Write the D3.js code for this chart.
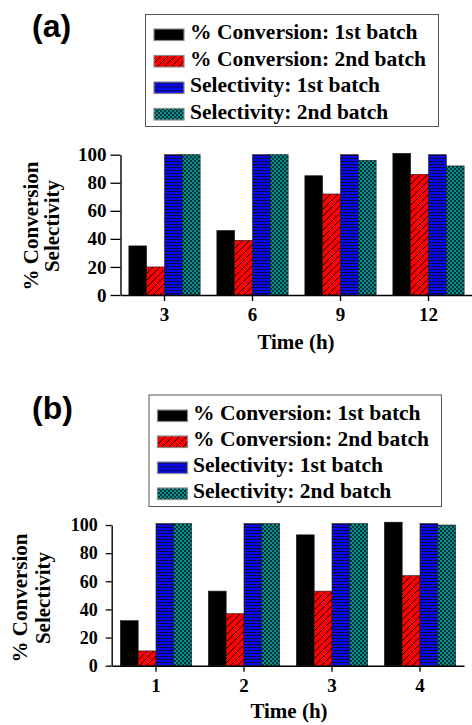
<!DOCTYPE html>
<html>
<head>
<meta charset="utf-8">
<script src="https://cdn.jsdelivr.net/npm/d3@7"></script>
<style>
  body { margin: 0; background: #fff; }
  svg { display: block; }
</style>
</head>
<body>
<div id="chart"></div>
<script>
// ---- data ----
const seriesNames = [
  "% Conversion: 1st batch",
  "% Conversion: 2nd batch",
  "Selectivity: 1st batch",
  "Selectivity: 2nd batch"
];
const yTicks = [0, 20, 40, 60, 80, 100];

const timesA = ["3", "6", "9", "12"];
const conv1A = [35, 46, 85, 101];
const conv2A = [20, 39, 72, 86];
const sel1A = [100, 100, 100, 100];
const sel2A = [100, 100, 96, 92];

const timesB = ["1", "2", "3", "4"];
const conv1B = [32, 53, 93, 102];
const conv2B = [10.5, 37, 53, 64];
const sel1B = [101, 101, 101, 101];
const sel2B = [101, 101, 101, 100];

const width = 472;
const height = 725;
const serif = '"Liberation Serif", "Times New Roman", serif';
const sans = '"Liberation Sans", Arial, sans-serif';

const svg = d3.select("#chart").append("svg")
  .attr("width", width)
  .attr("height", height)
  .attr("viewBox", `0 0 ${width} ${height}`);

// ---- fill patterns ----
const defs = svg.append("defs");

function hatch(id) {
  const p = defs.append("pattern").attr("id", id)
    .attr("patternUnits", "userSpaceOnUse").attr("width", 7).attr("height", 7);
  p.append("rect").attr("width", 7).attr("height", 7).attr("fill", "#ff0000");
  p.append("path").attr("d", "M-1,1 l2,-2 M0,7 l7,-7 M6,8 l2,-2")
    .attr("stroke", "#000").attr("stroke-width", 0.9);
}
function lines(id, h) {
  const p = defs.append("pattern").attr("id", id)
    .attr("patternUnits", "userSpaceOnUse").attr("width", 4).attr("height", h);
  p.append("rect").attr("width", 4).attr("height", h).attr("fill", "#0a0aef");
  p.append("rect").attr("y", h - 1).attr("width", 4).attr("height", 1).attr("fill", "#0b0b40");
}
function dots(id) {
  const p = defs.append("pattern").attr("id", id)
    .attr("patternUnits", "userSpaceOnUse").attr("width", 4).attr("height", 4);
  p.append("rect").attr("width", 4).attr("height", 4).attr("fill", "#0c2f2f");
  p.append("rect").attr("width", 2).attr("height", 2).attr("fill", "#009393");
  p.append("rect").attr("x", 2).attr("y", 2).attr("width", 2).attr("height", 2).attr("fill", "#009393");
}
hatch("redHatch");
lines("blueLines", 3);
lines("blueLinesLeg", 3.8);
dots("tealDots");

const barFills = ["#000", "url(#redHatch)", "url(#blueLines)", "url(#tealDots)"];
const legFills = ["#000", "url(#redHatch)", "url(#blueLinesLeg)", "url(#tealDots)"];

function drawPanel(cfg) {
  const g = svg.append("g");
  const series = [cfg.c1, cfg.c2, cfg.s1, cfg.s2];

  // panel letter
  g.append("text")
    .attr("x", cfg.letterX).attr("y", cfg.letterY)
    .attr("font-family", sans).attr("font-weight", "bold")
    .attr("font-size", 32)
    .text(cfg.letter);

  // legend
  const leg = g.append("g");
  leg.append("rect")
    .attr("x", cfg.leg.x).attr("y", cfg.leg.y)
    .attr("width", cfg.leg.w).attr("height", cfg.leg.h)
    .attr("fill", "#fff").attr("stroke", "#555").attr("stroke-width", 1);
  seriesNames.forEach((name, i) => {
    const yy = cfg.leg.y0 + i * cfg.leg.step;
    leg.append("rect")
      .attr("x", cfg.leg.sx).attr("y", yy)
      .attr("width", 30).attr("height", 11.5)
      .attr("fill", legFills[i])
      .attr("stroke", "#8a8a8a").attr("stroke-width", 1.2);
    leg.append("text")
      .attr("x", cfg.leg.tx).attr("y", yy + 10)
      .attr("font-family", serif).attr("font-weight", "bold")
      .attr("font-size", 21.5)
      .text(name);
  });

  const y = d3.scaleLinear().domain([0, 100]).range(cfg.yRange);
  const x0 = d3.scaleBand().domain(cfg.times).range(cfg.xRange)
    .paddingInner(0.19).paddingOuter(0.095);
  const x1 = d3.scaleBand().domain(d3.range(series.length)).range([0, x0.bandwidth()]);

  // bars
  cfg.times.forEach((t, i) => {
    g.selectAll(null)
      .data(series.map((s, k) => ({ k, v: s[i] })))
      .join("rect")
      .attr("x", d => x0(t) + x1(d.k))
      .attr("y", d => y(d.v))
      .attr("width", x1.bandwidth())
      .attr("height", d => y(0) - y(d.v))
      .attr("fill", d => barFills[d.k])
      .attr("stroke", "#1a1a1a")
      .attr("stroke-width", 0.6);
  });

  // axes
  const yAxis = g.append("g")
    .attr("transform", `translate(${cfg.axisX},0)`)
    .call(d3.axisLeft(y).tickValues(yTicks).tickSize(cfg.yTick).tickPadding(cfg.yPad).tickSizeOuter(0));
  const xAxis = g.append("g")
    .attr("transform", `translate(0,${y(0)})`)
    .call(d3.axisBottom(x0).tickSize(6).tickPadding(7).tickSizeOuter(0));

  [yAxis, xAxis].forEach(a => {
    a.select(".domain").attr("stroke", "#000").attr("stroke-width", 1.4);
    a.selectAll(".tick line").attr("stroke", "#000").attr("stroke-width", 1.3);
    a.selectAll("text")
      .attr("font-family", serif).attr("font-weight", "bold").attr("fill", "#000");
  });
  yAxis.selectAll("text").attr("font-size", cfg.yFont);
  xAxis.selectAll("text").attr("font-size", 19);

  // axis titles
  g.append("text")
    .attr("x", cfg.xTitle[0]).attr("y", cfg.xTitle[1])
    .attr("text-anchor", "middle")
    .attr("font-family", serif).attr("font-weight", "bold").attr("font-size", 21)
    .text("Time (h)");

  const yt = g.append("text")
    .attr("transform", `translate(${cfg.yTitle[0]},${cfg.yTitle[1]}) rotate(-90)`)
    .attr("text-anchor", "middle")
    .attr("font-family", serif).attr("font-weight", "bold").attr("font-size", 21);
  yt.append("tspan").attr("x", 0).attr("y", 0).text("% Conversion");
  yt.append("tspan").attr("x", 0).attr("y", cfg.yTitle[2]).text("Selectivity");
}

drawPanel({
  letter: "(a)", letterX: 32, letterY: 37,
  times: timesA, c1: conv1A, c2: conv2A, s1: sel1A, s2: sel2A,
  leg: { x: 145.5, y: 14.5, w: 293, h: 112, y0: 29, step: 26.5, sx: 154, tx: 190 },
  yRange: [295, 154.7], xRange: [120.5, 472.5], axisX: 120.5,
  yTick: 10, yPad: 4, yFont: 19,
  xTitle: [296, 349], yTitle: [38, 226, 21]
});

drawPanel({
  letter: "(b)", letterX: 32, letterY: 419,
  times: timesB, c1: conv1B, c2: conv2B, s1: sel1B, s2: sel2B,
  leg: { x: 149, y: 395, w: 292.5, h: 111.5, y0: 410, step: 26, sx: 157.5, tx: 193 },
  yRange: [665.7, 525], xRange: [112, 464], axisX: 111.7,
  yTick: 6, yPad: 8, yFont: 18,
  xTitle: [289, 718], yTitle: [26.5, 598, 23.5]
});
</script>
</body>
</html>
